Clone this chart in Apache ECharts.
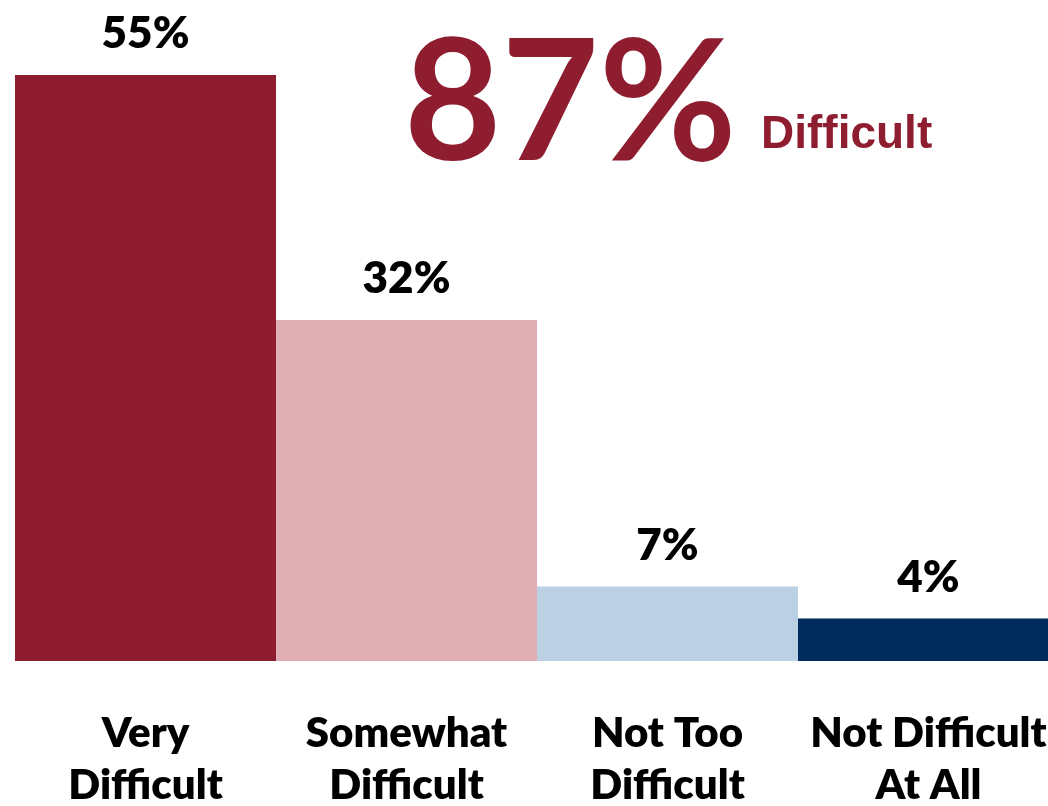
<!DOCTYPE html>
<html>
<head>
<meta charset="utf-8">
<script src="https://cdn.jsdelivr.net/npm/echarts@6/dist/echarts.min.js"></script>
<style>
html,body{margin:0;padding:0;background:#fff;}
#main{width:1048px;height:806px;}
</style>
</head>
<body>
<div id="main"></div>
<script>
var categories = ["Very\nDifficult", "Somewhat\nDifficult", "Not Too\nDifficult", "Not Difficult\nAt All"];
var values = [55, 32, 7, 4];
var barColors = ["#8F1D30", "#E0AFB6", "#BBD0E3", "#002B5C"];
var headlineValue = "87%";
var headlineLabel = "Difficult";

var chart = echarts.init(document.getElementById('main'));
var option = {
  backgroundColor: '#ffffff',
  animation: false,
  grid: { left: 15, right: -11, top: 75, bottom: 145, containLabel: false, outerBoundsMode: 'none' },
  xAxis: {
    type: 'category',
    data: categories,
    axisLine: { show: false },
    axisTick: { show: false },
    axisLabel: {
      interval: 0,
      margin: 46,
      color: '#000',
      fontFamily: 'Lato',
      fontWeight: 800,
      fontSize: 42,
      lineHeight: 52
    }
  },
  yAxis: {
    type: 'value',
    min: 0,
    max: 55,
    show: false,
    splitLine: { show: false }
  },
  series: [{
    type: 'bar',
    barCategoryGap: '0%',
    data: values.map(function (v, i) {
      return { value: v, itemStyle: { color: barColors[i] } };
    }),
    label: {
      show: true,
      position: 'top',
      distance: 19,
      formatter: '{c}%',
      color: '#000',
      fontFamily: 'Lato',
      fontWeight: 800,
      fontSize: 44
    }
  }],
  graphic: [
    {
      type: 'text',
      left: 404,
      top: 22,
      style: {
        text: headlineValue,
        fill: '#8F1D30',
        font: 'bold 168px Lato'
      }
    },
    {
      type: 'text',
      left: 761,
      top: 112,
      style: {
        text: headlineLabel,
        fill: '#8F1D30',
        font: 'bold 46px "Liberation Sans"'
      }
    }
  ]
};
chart.setOption(option);
</script>
</body>
</html>
